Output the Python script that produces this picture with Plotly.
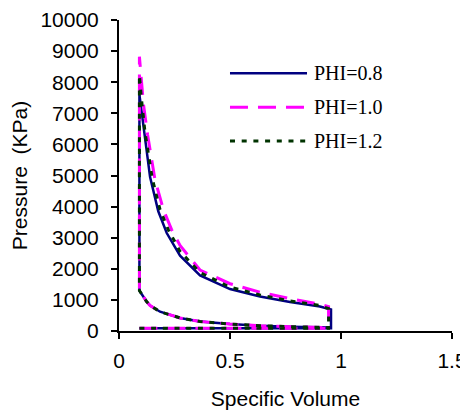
import plotly.graph_objects as go

# ---- data ----
series_names = ["PHI=0.8", "PHI=1.0", "PHI=1.2"]

# compression stroke (shared shape), from V1 down to V2
comp_v = [0.944, 0.77, 0.635, 0.5, 0.365, 0.275, 0.185, 0.14, 0.125, 0.11, 0.092]
comp_p = [110, 140, 170, 225, 305, 420, 620, 820, 940, 1100, 1300]

# intake/exhaust line level and clearance volume
low_p = 90
v_min = 0.092

# expansion strokes
exp_v_08 = [0.092, 0.1, 0.11, 0.14, 0.177, 0.215, 0.275, 0.365, 0.5, 0.635, 0.77, 0.905, 0.955]
exp_p_08 = [7600, 7150, 6460, 4950, 3850, 3150, 2420, 1790, 1350, 1110, 930, 790, 690]

exp_v_10 = [0.092, 0.1, 0.11, 0.129, 0.162, 0.2, 0.237, 0.275, 0.365, 0.5, 0.635, 0.77, 0.905, 0.944]
exp_p_10 = [8820, 8050, 7300, 6300, 4870, 3900, 3260, 2750, 1960, 1520, 1250, 1040, 860, 780]

exp_v_12 = [0.092, 0.1, 0.117, 0.15, 0.185, 0.222, 0.275, 0.365, 0.5, 0.635, 0.77, 0.905, 0.944]
exp_p_12 = [8230, 7550, 6400, 4900, 3900, 3260, 2560, 1880, 1410, 1160, 970, 820, 720]

x_ticks = [0, 0.5, 1, 1.5]
x_tick_text = ["0", "0.5", "1", "1.5"]
y_ticks = [0, 1000, 2000, 3000, 4000, 5000, 6000, 7000, 8000, 9000, 10000]
y_tick_text = ["0", "1000", "2000", "3000", "4000", "5000", "6000", "7000", "8000", "9000", "10000"]


def cycle(exp_v, exp_p):
    v1 = exp_v[-1]
    vs = [v_min, v1, v1] + comp_v[1:] + exp_v + [v1]
    ps = [low_p, low_p, comp_p[0]] + comp_p[1:] + exp_p + [low_p]
    return vs, ps


colors = ["#000080", "#FF00FF", "#003300"]
dashes = ["solid", "18px,10px", "5px,6.7px"]
widths = [2.5, 3, 3]
data = [(exp_v_08, exp_p_08), (exp_v_10, exp_p_10), (exp_v_12, exp_p_12)]

fig = go.Figure()
for name, (ev, ep), c, d, w in zip(series_names, data, colors, dashes, widths):
    vs, ps = cycle(ev, ep)
    fig.add_trace(go.Scatter(x=vs, y=ps, mode="lines", name=name,
                             line=dict(color=c, dash=d, width=w),
                             showlegend=False))

# manual legend (long sample lines like the original)
leg_y = [0.8286, 0.7193, 0.6109]
for name, c, d, w, yy in zip(series_names, colors, dashes, widths, leg_y):
    fig.add_shape(type="line", xref="paper", yref="paper",
                  x0=0.3333, x1=0.5646, y0=yy, y1=yy,
                  line=dict(color=c, dash=d, width=w))
    fig.add_annotation(text=name, xref="paper", yref="paper",
                       x=0.5787, y=yy, xanchor="left", yanchor="middle",
                       showarrow=False,
                       font=dict(family="Liberation Serif, Times New Roman, serif",
                                 size=20, color="black"))

axis_font = dict(family="Liberation Sans, Arial, sans-serif", size=21, color="black")

# page body adds an 8px offset, margins compensate for it
fig.update_layout(
    width=468, height=410,
    margin=dict(l=111, r=24, t=12, b=87),
    paper_bgcolor="white", plot_bgcolor="white",
    font=axis_font,
)
fig.update_xaxes(range=[0, 1.5], tickvals=x_ticks, ticktext=x_tick_text,
                 automargin=False,
                 showgrid=False, zeroline=False, showline=True,
                 linecolor="black", linewidth=2, ticks="outside",
                 ticklen=6, tickwidth=2, tickcolor="black",
                 tickfont=axis_font, ticklabelstandoff=4,
                 title=dict(text="Specific Volume", font=axis_font, standoff=20))
fig.update_yaxes(range=[0, 10000], tickvals=y_ticks, ticktext=y_tick_text,
                 automargin=False,
                 showgrid=False, zeroline=False, showline=True,
                 linecolor="black", linewidth=2, ticks="outside",
                 ticklen=6, tickwidth=2, tickcolor="black",
                 tickfont=axis_font, ticklabelstandoff=8,
                 title=dict(text="Pressure\u00a0 (KPa)", font=axis_font, standoff=8))

fig.write_html("out.html")
